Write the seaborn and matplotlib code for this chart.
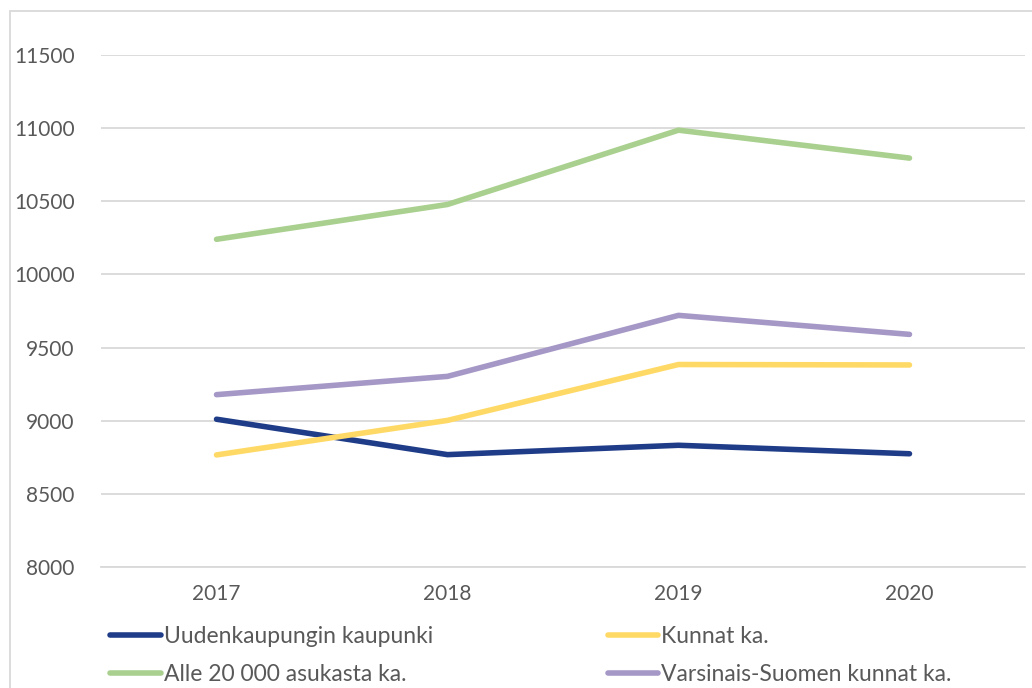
import pandas as pd
import seaborn as sns
import matplotlib.pyplot as plt
from matplotlib.patches import Rectangle

years = ['2017', '2018', '2019', '2020']
uusikaupunki = [9010, 8768, 8832, 8774]
kunnat = [8766, 9002, 9384, 9381]
alle_20000 = [10240, 10478, 10986, 10795]
varsinais_suomi = [9178, 9303, 9720, 9590]

series = ['Uudenkaupungin kaupunki', 'Alle 20 000 asukasta ka.',
          'Kunnat ka.', 'Varsinais-Suomen kunnat ka.']
values = [uusikaupunki, alle_20000, kunnat, varsinais_suomi]
colors = ['#1F3C88', '#A9D08E', '#FFD966', '#A597C6']

df = pd.DataFrame([(s, y, v) for s, vals in zip(series, values)
                   for y, v in zip(years, vals)],
                  columns=['sarja', 'vuosi', 'arvo'])

sns.set_style('white')
plt.rcParams['font.family'] = ['Lato', 'DejaVu Sans']

fig = plt.figure(figsize=(10.32, 6.88), dpi=100)
ax = fig.add_axes([0.0979, 0.1759, 0.8953, 0.7442])

sns.lineplot(data=df, x='vuosi', y='arvo', hue='sarja', hue_order=series,
             palette=colors, linewidth=4, ax=ax, sort=False)
for line in ax.lines:
    line.set_solid_capstyle('round')

ax.set_xlim(-0.5, 3.5)
ax.set_ylim(8000, 11500)
ax.set_yticks(range(8000, 11501, 500))
ax.yaxis.grid(True, color='#d9d9d9', linewidth=1.3)
ax.set_xlabel('')
ax.set_ylabel('')
for s in ax.spines.values():
    s.set_visible(False)
ax.spines['bottom'].set_visible(True)
ax.spines['bottom'].set_color('#d9d9d9')
ax.spines['bottom'].set_linewidth(1.3)
ax.tick_params(axis='y', labelsize=15, labelcolor='#595959', pad=19, length=0)
ax.tick_params(axis='x', labelsize=15, labelcolor='#595959', pad=12, length=0)

ax.get_legend().remove()
handles = ax.lines[:4]
leg = fig.legend(handles, series, ncol=2, loc='upper left',
                 bbox_to_anchor=(0.087, 0.12), frameon=False, fontsize=16.5,
                 handlelength=2.2, handletextpad=0.15, columnspacing=7.6,
                 labelspacing=0.75, labelcolor='#595959')
for h in leg.legend_handles:
    h.set_linewidth(4)

fig.patches.append(Rectangle((10 / 1032, -0.1), 1.2, (688 - 11) / 688 + 0.1,
                             transform=fig.transFigure, fill=False,
                             edgecolor='#d9d9d9', linewidth=1.3))

plt.savefig('out.png', dpi=100)
